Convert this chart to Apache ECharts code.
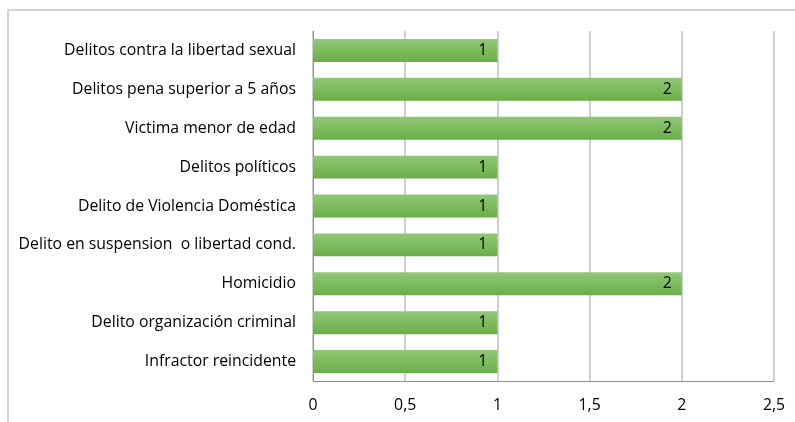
<!DOCTYPE html>
<html><head><meta charset="utf-8">
<script src="https://cdn.jsdelivr.net/npm/echarts@6/dist/echarts.min.js"></script>
<style>html,body{margin:0;padding:0;background:#fff}#c{width:795px;height:422px}</style>
</head><body><div id="c"></div>
<script>
const categories = ["Delitos contra la libertad sexual","Delitos pena superior a 5 años","Victima menor de edad","Delitos políticos","Delito de Violencia Doméstica","Delito en suspension  o libertad cond.","Homicidio","Delito organización criminal","Infractor reincidente"];
const values = [1,2,2,1,1,1,2,1,1];
const tickValues = [0,0.5,1,1.5,2,2.5];
const chart = echarts.init(document.getElementById('c'));
const font = "'Open Sans', 'Liberation Sans', sans-serif";
const fs = 15.8;
chart.setOption({
  animation:false,
  graphic:[{type:'rect',shape:{x:8,y:10,width:820,height:450},style:{fill:'none',stroke:'#c6c6c6',lineWidth:1.5},silent:true},
    {type:'line',shape:{x1:313,y1:381.5,x2:774,y2:381.5},style:{stroke:'#8c8c8c',lineWidth:1},silent:true}],
  grid:{left:313,right:21,top:31,bottom:41},
  xAxis:{type:'value',min:tickValues[0],max:tickValues[tickValues.length-1],interval:0.5,
    axisLine:{show:false},axisTick:{show:false},
    axisLabel:{margin:16,color:'#000',fontFamily:font,fontSize:fs,formatter:v=>String(v).replace('.',',')},
    splitLine:{show:true,lineStyle:{color:'#bfbfbf',width:1.5}}},
  yAxis:{type:'category',data:categories,inverse:true,
    axisLine:{show:true,lineStyle:{color:'#8c8c8c',width:1}},axisTick:{show:false},
    axisLabel:{margin:17,color:'#000',fontFamily:font,fontSize:fs}},
  series:[{type:'bar',data:values,barCategoryGap:'41%',
    itemStyle:{color:new echarts.graphic.LinearGradient(0,0,0,1,[{offset:0,color:'#92c878'},{offset:1,color:'#6aae48'}])},
    label:{show:true,position:'insideRight',distance:10,color:'#000',fontFamily:font,fontSize:fs}}],
});
</script></body></html>
